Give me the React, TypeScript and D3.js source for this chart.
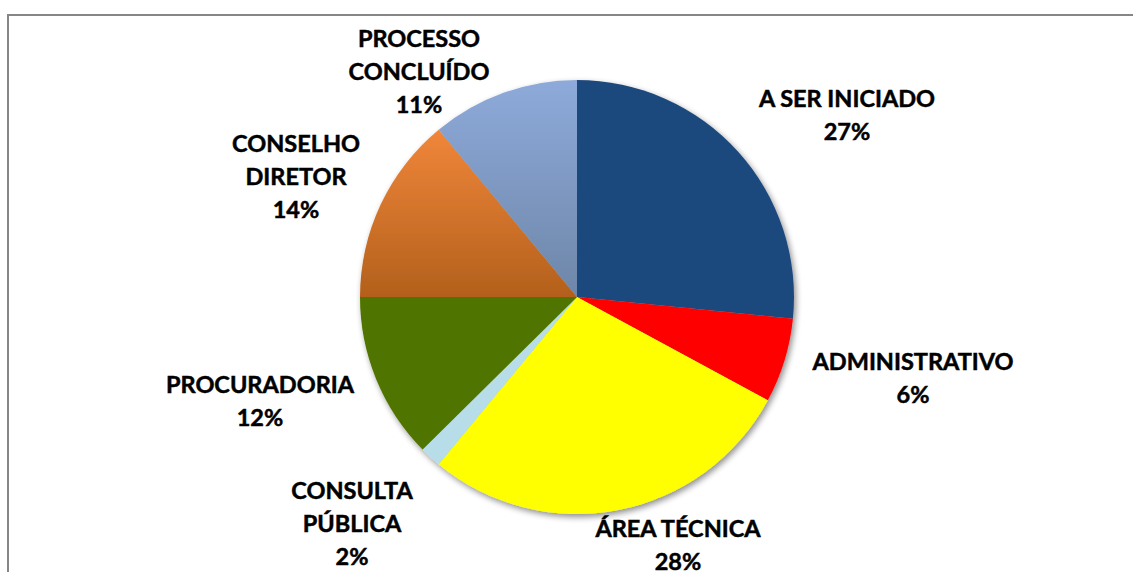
import React from "react";
import * as d3 from "d3";

const categories = [
  "A SER INICIADO",
  "ADMINISTRATIVO",
  "ÁREA TÉCNICA",
  "CONSULTA PÚBLICA",
  "PROCURADORIA",
  "CONSELHO DIRETOR",
  "PROCESSO CONCLUÍDO",
];
const values = [26.6, 6.3, 28.1, 1.6, 12.4, 14.0, 11.0];
const percentLabels = ["27%", "6%", "28%", "2%", "12%", "14%", "11%"];
const labelLines = [
  ["A SER INICIADO"],
  ["ADMINISTRATIVO"],
  ["ÁREA TÉCNICA"],
  ["CONSULTA", "PÚBLICA"],
  ["PROCURADORIA"],
  ["CONSELHO", "DIRETOR"],
  ["PROCESSO", "CONCLUÍDO"],
];

// styling / layout (not data)
const fills = [
  { top: "#1F497D", bottom: "#1F497D" },
  { top: "#FF0000", bottom: "#FF0000" },
  { top: "#FFFF00", bottom: "#FFFF00" },
  { top: "#B7DDE8", bottom: "#B7DDE8" },
  { top: "#4F7400", bottom: "#4F7400" },
  { top: "#F0863A", bottom: "#B3601C" },
  { top: "#8EAADA", bottom: "#6D86A8" },
];
// label anchor: center x and baseline of first line
const labelAnchors = [
  [847, 107],
  [913, 370],
  [678, 537],
  [352, 499],
  [260, 393],
  [296, 152],
  [419, 47],
];

const W = 1133;
const H = 572;
const cx = 577;
const cy = 297;
const R = 217;
const lineGap = 33;

export default function App() {
  const pie = d3
    .pie<number>()
    .sort(null)
    .startAngle(0)
    .endAngle(2 * Math.PI)
    .value((d) => d);
  const arcs = pie(values);
  const arc = d3.arc<d3.PieArcDatum<number>>().innerRadius(0).outerRadius(R);

  return (
    <div style={{ position: "fixed", left: 0, top: 0, width: W, height: H }}>
      <svg width={W} height={H} style={{ display: "block", background: "#fff" }}>
        <defs>
          {fills.map((f, i) => (
            <linearGradient key={i} id={`g${i}`} x1="0" y1="0" x2="0" y2="1">
              <stop offset="0" stopColor={f.top} />
              <stop offset="1" stopColor={f.bottom} />
            </linearGradient>
          ))}
          <filter id="shadow" x="-20%" y="-20%" width="140%" height="140%">
            <feGaussianBlur in="SourceAlpha" stdDeviation="3" />
            <feOffset dx="2" dy="3" result="b" />
            <feComponentTransfer>
              <feFuncA type="linear" slope="0.45" />
            </feComponentTransfer>
            <feMerge>
              <feMergeNode />
              <feMergeNode in="SourceGraphic" />
            </feMerge>
          </filter>
        </defs>
        {/* chart frame */}
        <line x1={7} y1={15} x2={W} y2={15} stroke="#868686" strokeWidth={2} />
        <line x1={8} y1={15} x2={8} y2={H} stroke="#868686" strokeWidth={2} />

        <g transform={`translate(${cx},${cy})`} filter="url(#shadow)">
          {arcs.map((a, i) => (
            <path key={categories[i]} d={arc(a) || ""} fill={`url(#g${i})`} />
          ))}
        </g>

        <g
          fontFamily="Lato, 'Liberation Sans', sans-serif"
          fontWeight="bold"
          fontSize={23.5}
          fill="#000"
          stroke="#000"
          strokeWidth={0.5}
          textAnchor="middle"
        >
          {categories.map((c, i) => {
            const [x, y] = labelAnchors[i];
            const lines = [...labelLines[i], percentLabels[i]];
            return (
              <text key={c} x={x} y={y}>
                {lines.map((l, j) => (
                  <tspan key={j} x={x} y={y + j * lineGap}>
                    {l}
                  </tspan>
                ))}
              </text>
            );
          })}
        </g>
      </svg>
    </div>
  );
}
